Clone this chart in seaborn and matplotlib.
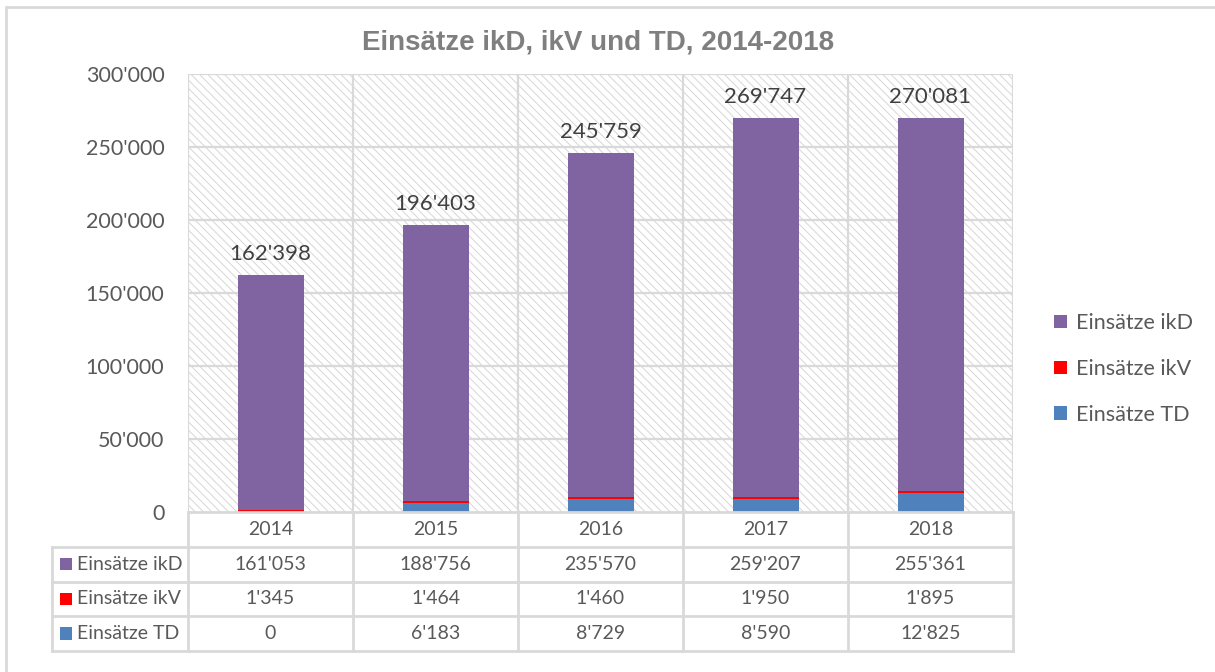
import matplotlib
matplotlib.use("Agg")
import matplotlib.pyplot as plt
import seaborn as sns
import pandas as pd
from matplotlib.patches import Rectangle, Patch
from matplotlib.lines import Line2D

years = ["2014", "2015", "2016", "2017", "2018"]
ikd = [161053, 188756, 235570, 259207, 255361]
ikv = [1345, 1464, 1460, 1950, 1895]
td = [0, 6183, 8729, 8590, 12825]

series_names = ["Einsätze ikD", "Einsätze ikV", "Einsätze TD"]
colors = ["#8064A2", "#FF0000", "#4F81BD"]
grid_c = "#D9D9D9"
text_c = "#595959"

def fmt(v):
    return f"{v:,}".replace(",", "'")

df = pd.DataFrame({"year": years, "ikD": ikd, "ikV": ikv, "TD": td})
df["total"] = df["ikD"] + df["ikV"] + df["TD"]
df["low2"] = df["ikV"] + df["TD"]

sns.set_theme(style="white")
plt.rcParams["font.family"] = ["Lato", "DejaVu Sans"]
plt.rcParams["hatch.linewidth"] = 0.7
plt.rcParams["hatch.color"] = "#D6D6D6"

W, H = 1215, 672
fig = plt.figure(figsize=(W / 100, H / 100), dpi=100)

# outer frame (top + left only visible)
fig.add_artist(Line2D([6 / W, 1], [1 - 7 / H, 1 - 7 / H], color=grid_c, lw=2, transform=fig.transFigure))
fig.add_artist(Line2D([6 / W, 6 / W], [0, 1 - 7 / H], color=grid_c, lw=2, transform=fig.transFigure))

x0, x1, ytop, ybot = 188, 1013, 74, 512
ax = fig.add_axes([x0 / W, 1 - ybot / H, (x1 - x0) / W, (ybot - ytop) / H])

ax.add_patch(Rectangle((0, 0), 1, 1, transform=ax.transAxes, facecolor="white",
                       edgecolor="#D6D6D6", hatch="\\" * 4, lw=0, zorder=0))

bar_kw = dict(width=0.4, saturation=1, ax=ax, zorder=3, linewidth=0, edgecolor="none")
sns.barplot(data=df, x="year", y="total", color=colors[0], **bar_kw)
sns.barplot(data=df, x="year", y="low2", color=colors[1], **bar_kw)
sns.barplot(data=df, x="year", y="TD", color=colors[2], **bar_kw)

ax.set_xlim(-0.5, len(years) - 0.5)
ax.set_ylim(0, 300000)
ax.set_yticks(range(0, 300001, 50000))
ax.set_yticklabels([fmt(v) for v in range(0, 300001, 50000)], fontsize=15.5, color=text_c)
ax.tick_params(axis="y", length=0, pad=17)
ax.set_xticks([])
ax.set_xlabel("")
ax.set_ylabel("")
for s in ax.spines.values():
    s.set_visible(False)
for v in range(50000, 300001, 50000):
    ax.axhline(v, color=grid_c, lw=1.6, zorder=1)
for i in range(len(years) + 1):
    ax.axvline(i - 0.5, color=grid_c, lw=1.6, zorder=1)

for i, t in enumerate(df["total"]):
    ax.annotate(fmt(t), (i, t), xytext=(0, 8), textcoords="offset points",
                ha="center", va="bottom", fontsize=16, color="#404040", zorder=4)

# data table
col_w = (x1 - x0) / len(years)
tl = 52
tb = 651
ax_t = fig.add_axes([tl / W, 1 - tb / H, (x1 - tl) / W, (tb - ybot) / H])
left = -0.5 - (x0 - tl) / col_w
ax_t.set_xlim(left, len(years) - 0.5)
ax_t.set_ylim(4, 0)
ax_t.axis("off")
lkw = dict(color=grid_c, lw=2, solid_capstyle="projecting", clip_on=False)
ax_t.plot([-0.5, len(years) - 0.5], [0, 0], **lkw)
for r in range(1, 5):
    ax_t.plot([left, len(years) - 0.5], [r, r], **lkw)
for i in range(len(years) + 1):
    ax_t.plot([i - 0.5, i - 0.5], [0, 4], **lkw)
ax_t.plot([left, left], [1, 4], **lkw)

for i, y in enumerate(years):
    ax_t.text(i, 0.5, y, ha="center", va="center", fontsize=14, color=text_c)
rows = [ikd, ikv, td]
for r, (name, vals, c) in enumerate(zip(series_names, rows, colors)):
    yy = r + 1.5
    ax_t.add_patch(Rectangle((left + 8 / col_w, yy - 0.18), 12 / col_w, 0.36, facecolor=c, edgecolor="none"))
    ax_t.text(left + 25 / col_w, yy, name, ha="left", va="center", fontsize=14, color=text_c)
    for i, v in enumerate(vals):
        ax_t.text(i, yy, fmt(v), ha="center", va="center", fontsize=14, color=text_c)

handles = [Patch(facecolor=c, edgecolor="none") for c in colors]
fig.legend(handles, series_names, loc="center left", bbox_to_anchor=(1035 / W, 1 - 369 / H),
           frameon=False, fontsize=15.5, labelcolor=text_c, handlelength=0.6, handleheight=0.6,
           handletextpad=0.4, labelspacing=1.2)

fig.text(598 / W, 1 - 43 / H, "Einsätze ikD, ikV und TD, 2014-2018", ha="center", va="center",
         fontsize=20, fontweight="bold", color="#7F7F7F", family=["Liberation Sans", "DejaVu Sans"])

fig.savefig("out.png", dpi=100)
